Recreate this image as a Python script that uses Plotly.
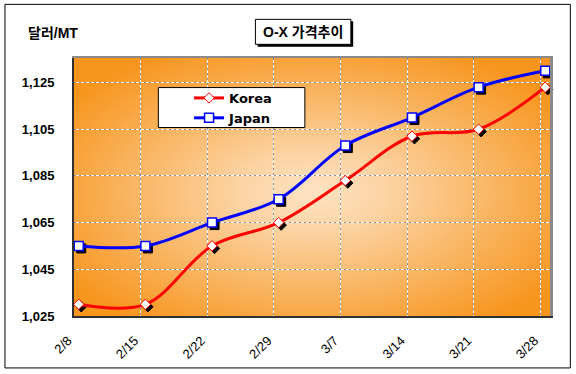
import base64
import pandas as pd
import plotly.graph_objects as go

# ---------------- data ----------------
dates = ["2008-02-08", "2008-02-15", "2008-02-22", "2008-02-29",
         "2008-03-07", "2008-03-14", "2008-03-21", "2008-03-28"]
korea = [1030, 1030, 1055, 1065, 1083, 1102, 1105, 1123]
japan = [1055, 1055, 1065, 1075, 1098, 1110, 1123, 1130]
x_tick_text = ["2/8", "2/15", "2/22", "2/29", "3/7", "3/14", "3/21", "3/28"]
y_tick_vals = [1025, 1045, 1065, 1085, 1105, 1125]
series_names = ["Korea", "Japan"]
title_text = "O-X 가격추이"
y_title_text = "달러/MT"

# ---------------- layout geometry (pixels) ----------------
W, H = 576, 374
PL, PR, PT, PB = 74.0, 549.7, 57.7, 316.0
PW, PH = PR - PL, PB - PT


def fx(p):
    return (p - PL) / PW


def fy(p):
    return (PB - p) / PH


Y0, Y1 = 1025, 1135.5
EPOCH = pd.Timestamp("1970-01-01")


def ms(s):
    return (pd.Timestamp(s) - EPOCH).total_seconds() * 1000.0


xr = [ms("2008-02-08"), ms("2008-03-29")]
DAY = 86400000
SH = 2.5  # shadow offset in px
dx = SH / PW * (xr[1] - xr[0])
dy = SH / PH * (Y1 - Y0)

FONT = "Liberation Sans, Arial, Noto Sans CJK KR, sans-serif"
KFONT = "Liberation Sans, Arial, Noto Sans CJK KR, sans-serif"

# ---------------- background gradient ----------------
svg = (
    '<svg xmlns="http://www.w3.org/2000/svg" width="476" height="258" '
    'viewBox="0 0 476 258" preserveAspectRatio="none">'
    '<defs><radialGradient id="g" cx="50%" cy="52%" r="62%">'
    '<stop offset="0" stop-color="#FDE3C4"/>'
    '<stop offset="0.25" stop-color="#FCD3A3"/>'
    '<stop offset="1" stop-color="#F7951D"/>'
    '</radialGradient></defs>'
    '<rect width="476" height="258" fill="url(#g)"/></svg>'
)
bg_src = "data:image/svg+xml;base64," + base64.b64encode(svg.encode()).decode()

fig = go.Figure()

# shadows (base subplot, range shifted so they appear offset down-right)
fig.add_trace(go.Scatter(
    x=dates, y=korea, xaxis="x", yaxis="y", mode="markers",
    xperiod=DAY, xperiodalignment="middle",
    marker=dict(symbol="diamond", size=8, color="black", line=dict(color="black", width=1)),
    showlegend=False, hoverinfo="skip", cliponaxis=False))
fig.add_trace(go.Scatter(
    x=dates, y=japan, xaxis="x", yaxis="y", mode="markers",
    xperiod=DAY, xperiodalignment="middle",
    marker=dict(symbol="square", size=9, color="black", line=dict(color="black", width=1)),
    showlegend=False, hoverinfo="skip", cliponaxis=False))

# main series
fig.add_trace(go.Scatter(
    x=dates, y=korea, name=series_names[0], xaxis="x2", yaxis="y2",
    mode="lines+markers", xperiod=DAY, xperiodalignment="middle",
    line=dict(color="#FF0000", width=3, shape="spline", smoothing=1),
    marker=dict(symbol="diamond", size=8, color="white", line=dict(color="#FF0000", width=1)),
    cliponaxis=False))
fig.add_trace(go.Scatter(
    x=dates, y=japan, name=series_names[1], xaxis="x3", yaxis="y3",
    mode="lines+markers", xperiod=DAY, xperiodalignment="middle",
    line=dict(color="#0000FF", width=3, shape="spline", smoothing=1),
    marker=dict(symbol="square", size=9, color="white", line=dict(color="#0000FF", width=1.5)),
    cliponaxis=False))

shapes = [
    # outer frame
    dict(type="rect", xref="paper", yref="paper", x0=fx(5), x1=fx(570), y0=fy(368), y1=fy(4),
         line=dict(color="black", width=1), fillcolor="rgba(0,0,0,0)", layer="above"),
    # legend box
    dict(type="rect", xref="paper", yref="paper", x0=fx(158.3), x1=fx(304.7), y0=fy(127.3), y1=fy(87.3),
         line=dict(color="black", width=1), fillcolor="white", layer="above"),
    # title shadow + box
    dict(type="rect", xref="paper", yref="paper", x0=fx(257.5), x1=fx(353), y0=fy(46.5), y1=fy(21),
         line=dict(width=0), fillcolor="black", layer="above"),
    dict(type="rect", xref="paper", yref="paper", x0=fx(255.3), x1=fx(350.7), y0=fy(44), y1=fy(19),
         line=dict(color="black", width=1), fillcolor="white", layer="above"),
]

annotations = [
    dict(text=title_text, xref="paper", yref="paper", x=fx(303), y=fy(31.5),
         xanchor="center", yanchor="middle", showarrow=False,
         font=dict(family=KFONT, size=14, color="black", weight="bold")),
    dict(text=y_title_text, xref="paper", yref="paper", x=fx(26), y=fy(33),
         xanchor="left", yanchor="middle", showarrow=False,
         font=dict(family=KFONT, size=14, color="black", weight="bold")),
]

hidden = dict(showticklabels=False, zeroline=False, ticks="", fixedrange=True)

fig.update_layout(
    width=W, height=H,
    margin=dict(l=PL, r=W - PR, t=PT, b=H - PB, pad=0, autoexpand=False),
    paper_bgcolor="white", plot_bgcolor="rgba(0,0,0,0)",
    showlegend=True,
    legend=dict(x=fx(189), y=fy(82.7), xanchor="left", yanchor="top",
                bgcolor="rgba(0,0,0,0)", borderwidth=0, traceorder="normal",
                font=dict(family="DejaVu Sans, sans-serif", size=13, color="black", weight="bold")),
    images=[dict(source=bg_src, xref="paper", yref="paper", x=0, y=1, sizex=1, sizey=1,
                 xanchor="left", yanchor="top", sizing="stretch", layer="below")],
    shapes=shapes, annotations=annotations,
    # base (shadow) axes: shifted ranges, draw the grey top/right border
    xaxis=dict(type="date", side="top", range=[xr[0] - dx, xr[1] - dx], showgrid=False,
               showline=True, linecolor="#8A8A8A", linewidth=2, **hidden),
    yaxis=dict(side="right", range=[Y0 + dy, Y1 + dy], showgrid=False,
               showline=True, linecolor="#8A8A8A", linewidth=3, **hidden),
    # visible axes with tick labels and white solid grid
    xaxis2=dict(type="date", overlaying="x", anchor="y2", side="bottom", range=xr,
                tickmode="array", tickvals=dates, ticktext=x_tick_text,
                tickangle=-45, tickfont=dict(family=FONT, size=13, color="black"),
                showgrid=True, gridcolor="white", gridwidth=1,
                showline=True, linecolor="#303030", linewidth=2, ticks="",
                zeroline=False, automargin=False, ticklabelstandoff=10,
                ticklabelshift=-6, fixedrange=True),
    yaxis2=dict(overlaying="y", anchor="x2", side="left", range=[Y0, Y1],
                tickmode="array", tickvals=y_tick_vals, tickformat=",d",
                tickfont=dict(family=FONT, size=13, color="black", weight="bold"),
                showgrid=True, gridcolor="white", gridwidth=1,
                showline=True, linecolor="#303030", linewidth=2, ticks="",
                zeroline=False, automargin=False, ticklabelstandoff=15, fixedrange=True),
    # grey dashes over the white grid
    xaxis3=dict(type="date", overlaying="x", anchor="y3", range=xr, tickmode="array",
                tickvals=dates, showgrid=True, gridcolor="#8C8C8C", gridwidth=1,
                griddash="2px,3px", showline=False, **hidden),
    yaxis3=dict(overlaying="y", anchor="x3", range=[Y0, Y1], tickmode="array",
                tickvals=y_tick_vals, showgrid=True, gridcolor="#8C8C8C", gridwidth=1,
                griddash="2px,3px", showline=False, **hidden),
)

fig.write_html("out.html", config={"displayModeBar": False},
               post_script="document.body.style.margin='0px';document.body.style.padding='0px';")
